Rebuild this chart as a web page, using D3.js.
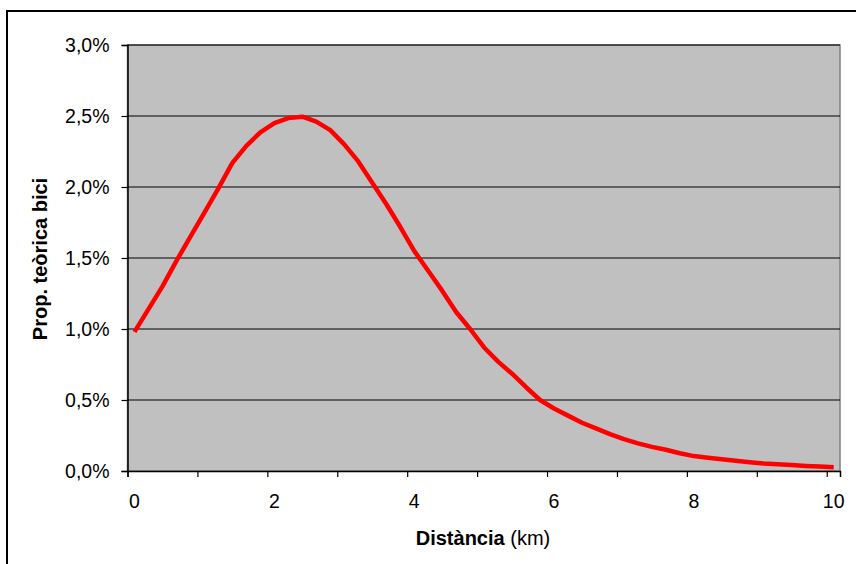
<!DOCTYPE html>
<html>
<head>
<meta charset="utf-8">
<script src="https://cdn.jsdelivr.net/npm/d3@7"></script>
<style>
  html, body { margin: 0; padding: 0; background: #fff; }
  svg { display: block; font-family: "Liberation Sans", Arial, sans-serif; }
</style>
</head>
<body>
<svg id="chart" width="856" height="564"></svg>
<script>
// Theoretical bike share by trip distance (km)
const distances = [0.1, 0.3, 0.5, 0.7, 0.9, 1.1, 1.3, 1.5, 1.7, 1.9,
  2.1, 2.3, 2.5, 2.7, 2.9, 3.1, 3.3, 3.5, 3.7, 3.9,
  4.1, 4.3, 4.5, 4.7, 4.9, 5.1, 5.3, 5.5, 5.7, 5.9,
  6.1, 6.3, 6.5, 6.7, 6.9, 7.1, 7.3, 7.5, 7.7, 7.9,
  8.1, 8.3, 8.5, 8.7, 8.9, 9.1, 9.3, 9.5, 9.7, 9.9, 10.1];
const shares = [0.0098, 0.0114, 0.0130, 0.0148, 0.0165, 0.0182, 0.0199, 0.0217, 0.0229, 0.02385,
  0.0245, 0.02485, 0.02495, 0.0246, 0.0240, 0.0230, 0.0218, 0.0203, 0.0188, 0.0172,
  0.0155, 0.0141, 0.0127, 0.0112, 0.0100, 0.0087, 0.0077, 0.00685, 0.0059, 0.0050,
  0.0044, 0.0039, 0.0034, 0.0030, 0.0026, 0.00225, 0.00195, 0.0017, 0.0015, 0.00125,
  0.00105, 0.00093, 0.00083, 0.00072, 0.00062, 0.00053, 0.00048, 0.00042, 0.00036, 0.00031, 0.00026];
const yTicks = [0, 0.005, 0.01, 0.015, 0.02, 0.025, 0.03];
const xTicks = [0, 1, 2, 3, 4, 5, 6, 7, 8, 9, 10];
const xLabelTicks = [0, 2, 4, 6, 8, 10];

const svg = d3.select("#chart");
const plot = { left: 127.5, right: 840, top: 45, bottom: 471 };
const tickFont = 19.5, titleFont = 20;

const x = d3.scaleLinear().domain([0, 10.19]).range([plot.left, plot.right]);
const y = d3.scaleLinear().domain([0, 0.03]).range([plot.bottom, plot.top]);
const fmt = v => d3.format(".1f")(v * 100).replace(".", ",") + "%";

// outer frame
svg.append("rect")
  .attr("x", 7).attr("y", 11).attr("width", 880).attr("height", 600)
  .attr("fill", "none").attr("stroke", "#000").attr("stroke-width", 2);

// plot area
svg.append("rect")
  .attr("x", plot.left).attr("y", plot.top)
  .attr("width", plot.right - plot.left).attr("height", plot.bottom - plot.top)
  .attr("fill", "#c0c0c0").attr("stroke", "#808080").attr("stroke-width", 1.5);

// horizontal gridlines
svg.append("g").selectAll("line").data(yTicks.filter(d => d > 0)).join("line")
  .attr("x1", plot.left).attr("x2", plot.right)
  .attr("y1", d => y(d)).attr("y2", d => y(d))
  .attr("stroke", "#000").attr("stroke-width", 1.2);

// y axis
const yAxis = svg.append("g").attr("transform", `translate(${plot.left},0)`)
  .call(d3.axisLeft(y).tickValues(yTicks).tickFormat(fmt).tickSize(6).tickPadding(12));
yAxis.select(".domain").attr("stroke", "#000").attr("stroke-width", 1.5);
yAxis.selectAll(".tick line").attr("stroke", "#000").attr("stroke-width", 1.2);
yAxis.selectAll(".tick text").attr("font-size", tickFont).attr("fill", "#000")
  .attr("font-family", "Liberation Sans, Arial, sans-serif");

// x axis
const xAxis = svg.append("g").attr("transform", `translate(0,${plot.bottom})`)
  .call(d3.axisBottom(x).tickValues(xTicks).tickFormat(d => xLabelTicks.includes(d) ? d : "")
    .tickSize(6).tickPadding(17));
xAxis.select(".domain").attr("stroke", "#000").attr("stroke-width", 1.5);
xAxis.selectAll(".tick line").attr("stroke", "#000").attr("stroke-width", 1.2);
xAxis.selectAll(".tick text").attr("font-size", tickFont).attr("fill", "#000")
  .attr("dx", 6.5).attr("font-family", "Liberation Sans, Arial, sans-serif");

// curve
const line = d3.line().x((d, i) => x(distances[i])).y(d => y(d));
svg.append("path").datum(shares)
  .attr("d", line)
  .attr("fill", "none").attr("stroke", "#ff0000").attr("stroke-width", 4.5)
  .attr("stroke-linejoin", "round");

// axis titles
svg.append("text")
  .attr("transform", "translate(47,259) rotate(-90)")
  .attr("text-anchor", "middle")
  .attr("font-size", titleFont).attr("font-weight", "bold").attr("fill", "#000")
  .text("Prop. teòrica bici");

const xt = svg.append("text")
  .attr("x", 483).attr("y", 545)
  .attr("text-anchor", "middle").attr("font-size", titleFont).attr("fill", "#000");
xt.append("tspan").attr("font-weight", "bold").text("Distància");
xt.append("tspan").text(" (km)");
</script>
</body>
</html>
